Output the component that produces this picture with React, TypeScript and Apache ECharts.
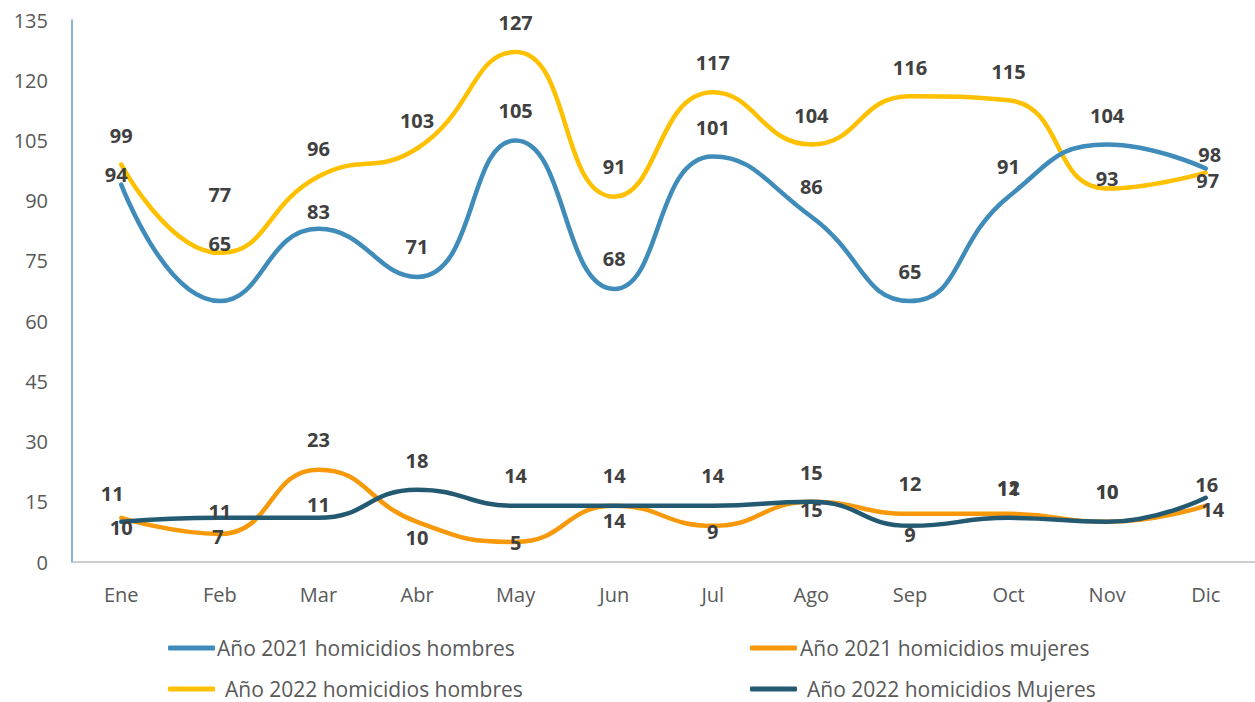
import React, { useEffect, useRef } from "react";
import * as echarts from "echarts";

const months = ["Ene", "Feb", "Mar", "Abr", "May", "Jun", "Jul", "Ago", "Sep", "Oct", "Nov", "Dic"];
const hombres2021 = [94, 65, 83, 71, 105, 68, 101, 86, 65, 91, 104, 98];
const mujeres2021 = [11, 7, 23, 10, 5, 14, 9, 15, 12, 12, 10, 14];
const hombres2022 = [99, 77, 96, 103, 127, 91, 117, 104, 116, 115, 93, 97];
const mujeres2022 = [10, 11, 11, 18, 14, 14, 14, 15, 9, 11, 10, 16];
const seriesNames = [
  "Año 2021 homicidios hombres",
  "Año 2021 homicidios mujeres",
  "Año 2022 homicidios hombres",
  "Año 2022 homicidios Mujeres",
];
const yTicks = { min: 0, max: 135, interval: 15 };

// label offsets [dx, dy] relative to the point (styling, not data)
const offH21 = [[-5, -10], [0, -58], [0, -17], [0, -30], [0, -30], [0, -30], [0, -29], [0, -30], [0, -30], [0, -30], [0, -29], [4, -14]];
const offM21 = [[-9, -24], [-2, 3], [0, -30], [0, 16], [0, 1], [0, 15], [0, 6], [0, 8], [0, -30], [0, -26], [0, -30], [7, 4]];
const offH22 = [[0, -29], [0, -58], [0, -28], [0, -28], [0, -30], [0, -30], [0, -30], [0, -29], [0, -29], [0, -29], [0, -10], [2, 8]];
const offM22 = [[0, 6], [0, -6], [0, -13], [0, -29], [0, -30], [0, -30], [0, -30], [0, -29], [0, 9], [0, -29], [0, -30], [1, -13]];

const colors = ["#3f8bba", "#f7990a", "#ffc000", "#235a72"];
const FONT = "'Open Sans', 'Noto Sans', sans-serif";

function mkSeries(name: string, values: number[], offs: number[][], color: string, z: number) {
  return {
    name,
    type: "line",
    smooth: 0.5,
    symbol: "circle",
    symbolSize: 0.5,
    showSymbol: true,
    z,
    lineStyle: { color, width: 4.5, cap: "round" },
    itemStyle: { color },
    data: values.map((v, i) => ({
      value: v,
      label: { offset: offs[i] },
    })),
    label: {
      show: true,
      position: "inside",
      color: "#404040",
      fontFamily: FONT,
      fontWeight: "bold",
      fontSize: 20,
    },
    emphasis: { disabled: true },
  };
}

export default function App() {
  const ref = useRef<HTMLDivElement>(null);
  useEffect(() => {
    if (!ref.current) return;
    const chart = echarts.init(ref.current, undefined, { renderer: "svg" });
    const legendBase = {
      icon: "roundRect",
      itemWidth: 47,
      itemHeight: 5,
      padding: 0,
      textStyle: { fontFamily: FONT, fontSize: 21, lineHeight: 22, color: "#595959" },
      selectedMode: false,
    };
    chart.setOption({
      animation: false,
      backgroundColor: "#ffffff",
      grid: { left: 72, top: 20, height: 542, width: 1188, containLabel: false },
      xAxis: {
        type: "category",
        data: months,
        boundaryGap: true,
        axisLine: { show: true, lineStyle: { color: "#bfbfbf", width: 1.5 } },
        axisTick: { show: false },
        axisLabel: { fontFamily: FONT, fontSize: 20, color: "#595959", margin: 22 },
      },
      yAxis: {
        type: "value",
        min: yTicks.min,
        max: yTicks.max,
        interval: yTicks.interval,
        axisLine: { show: true, lineStyle: { color: "#5a9bc4", width: 1.5 } },
        axisTick: { show: false },
        splitLine: { show: false },
        axisLabel: { fontFamily: FONT, fontSize: 20, color: "#595959", margin: 24 },
      },
      legend: [
        { ...legendBase, data: [seriesNames[0]], left: 168, top: 637, textStyle: { ...legendBase.textStyle, padding: [0, 0, 0, -3] } },
        { ...legendBase, data: [seriesNames[1]], left: 750, top: 637, textStyle: { ...legendBase.textStyle, padding: [0, 0, 0, -2] } },
        { ...legendBase, data: [seriesNames[2]], left: 168, top: 678, textStyle: { ...legendBase.textStyle, padding: [0, 0, 0, 5] } },
        { ...legendBase, data: [seriesNames[3]], left: 750, top: 678, textStyle: { ...legendBase.textStyle, padding: [0, 0, 0, 5] } },
      ],
      series: [
        mkSeries(seriesNames[0], hombres2021, offH21, colors[0], 3),
        mkSeries(seriesNames[1], mujeres2021, offM21, colors[1], 2),
        mkSeries(seriesNames[2], hombres2022, offH22, colors[2], 2),
        mkSeries(seriesNames[3], mujeres2022, offM22, colors[3], 3),
      ],
    });
    return () => chart.dispose();
  }, []);
  return (
    <div
      ref={ref}
      style={{ position: "absolute", left: 0, top: 0, width: 1255, height: 702, background: "#fff" }}
    />
  );
}
